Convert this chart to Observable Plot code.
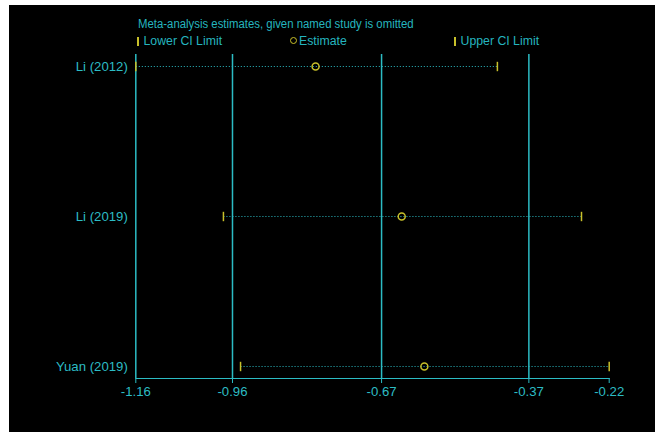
<!DOCTYPE html>
<html>
<head>
<meta charset="utf-8">
<script src="https://cdn.jsdelivr.net/npm/d3@7"></script>
<script src="https://cdn.jsdelivr.net/npm/@observablehq/plot@0.6"></script>
<style>
  html, body { margin: 0; padding: 0; background: #ffffff; }
  #wrap { position: absolute; left: 9px; top: 5px; width: 646px; height: 427px; background: #000; overflow: hidden; }
  #head { position: relative; width: 646px; height: 49px; font-family: "Liberation Sans", Arial, sans-serif; font-size: 12.3px; color: #25b5bf; }
  #head span { position: absolute; white-space: nowrap; line-height: 14px; }
  #head .title { transform: scaleX(0.925); transform-origin: left center; }
  .bar { display: inline-block; width: 1.5px; height: 9px; background: #c8c02a; vertical-align: middle; margin-right: 5px; }
  .circ { display: inline-block; width: 5px; height: 5px; border: 1.5px solid #c8c02a; border-radius: 50%; vertical-align: middle; margin-right: 2px; margin-top: -2px; }
  #chart svg { display: block; }
</style>
</head>
<body>
<div id="wrap">
  <div id="head">
    <span class="title" style="left:129px; top:12px;">Meta-analysis estimates, given named study is omitted</span>
    <span style="left:128px; top:29px;"><i class="bar"></i>Lower CI Limit</span>
    <span style="left:281px; top:29px;"><i class="circ"></i>Estimate</span>
    <span style="left:445px; top:29px;"><i class="bar"></i>Upper CI Limit</span>
  </div>
  <div id="chart"></div>
</div>
<script>
const studies = ["Li (2012)", "Li (2019)", "Yuan (2019)"];
const lower = [-1.16, -0.986, -0.952];
const estimate = [-0.803, -0.632, -0.587];
const upper = [-0.442, -0.275, -0.22];
const overall = [-0.968, -0.672, -0.3795]; // overall lower CI, estimate, upper CI
const tickValues = [-1.16, -0.968, -0.672, -0.3795, -0.22];
const tickLabels = ["-1.16", "-0.96", "-0.67", "-0.37", "-0.22"];

const CYAN = "#2cbcc4";
const YELLOW = "#c8c02a";

const rows = studies.map((s, i) => ({study: s, lower: lower[i], estimate: estimate[i], upper: upper[i]}));

const vbar = {
  draw(ctx, size) {
    const h = Math.sqrt(size / Math.PI);
    ctx.moveTo(0, -h);
    ctx.lineTo(0, h);
  }
};

const chart = Plot.plot({
  width: 646,
  height: 378,
  marginTop: 0,
  marginBottom: 54,
  marginLeft: 126.3,
  marginRight: 46.3,
  style: {background: "#000", color: CYAN, fontFamily: "Liberation Sans, Arial, sans-serif", fontSize: "13.2px"},
  x: {domain: [-1.16, -0.22], ticks: tickValues, tickFormat: (d, i) => tickLabels[i], tickSize: 5, tickPadding: 3, line: true, label: null},
  y: {domain: studies, type: "point", padding: 0.08, tickSize: 0, tickPadding: 8, label: null},
  marks: [
    Plot.ruleX([-1.16], {stroke: CYAN, strokeWidth: 1.5}),
    Plot.ruleX(overall, {stroke: CYAN, strokeWidth: 1.5}),
    Plot.link(rows, {x1: "lower", x2: "upper", y1: "study", y2: "study", stroke: CYAN, strokeWidth: 1, strokeDasharray: "1,2"}),
    Plot.dot(rows, {x: "lower", y: "study", symbol: vbar, r: 4.7, stroke: YELLOW, strokeWidth: 1.5}),
    Plot.dot(rows, {x: "upper", y: "study", symbol: vbar, r: 4.7, stroke: YELLOW, strokeWidth: 1.5}),
    Plot.dot(rows, {x: "estimate", y: "study", r: 3.5, stroke: YELLOW, strokeWidth: 1.5, fill: "none"})
  ]
});
document.getElementById("chart").appendChild(chart);
</script>
</body>
</html>
